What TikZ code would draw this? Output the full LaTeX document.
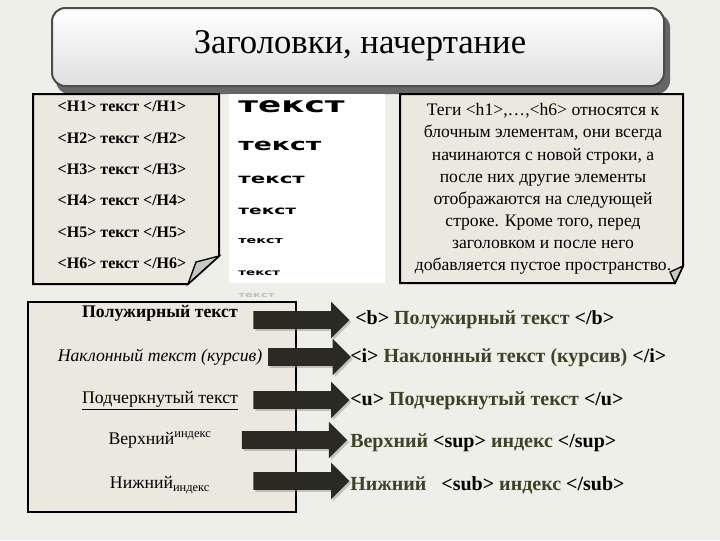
\documentclass[tikz,border=0pt]{standalone}
\usepackage{fontspec}
\setmainfont{Liberation Serif}
\newfontfamily\wide{DejaVu Sans}
\usetikzlibrary{shapes.arrows,shadows}
\definecolor{bg}{HTML}{EFEFEA}
\definecolor{paper}{HTML}{EBE8E0}
\definecolor{olive}{HTML}{3E4226}
\definecolor{arr}{HTML}{2B2A22}
\tikzset{
  paperbox/.style={draw=black,line width=1.5pt,fill=paper},
  fold/.style={draw=black,line width=1pt,fill=gray!45},
  htxt/.style={font=\fontsize{12}{14}\selectfont\bfseries},
  smp/.style={anchor=west,inner sep=0pt,xscale=1.6},
  ex/.style={font=\fontsize{13.2}{15}\selectfont,inner sep=0pt},
  barrow/.style={single arrow,fill=arr,minimum height=72pt,single arrow head extend=7pt,inner xsep=0pt,inner ysep=6.5pt,drop shadow={shadow xshift=1.5pt,shadow yshift=-1.5pt,opacity=0.4}},
  bl/.style={font=\fontsize{13.3}{15}\selectfont},
  rt/.style={font=\fontsize{15}{17}\selectfont\bfseries,text=olive,anchor=west,inner sep=0pt}
}
\begin{document}
\begin{tikzpicture}[x=0.75pt,y=-0.75pt]
\fill[bg] (0,0) rectangle (720,540);
\useasboundingbox (0,0) rectangle (720,540);
% title
\fill[black!60,rounded corners=10pt] (56,14) rectangle (670,94);
\shade[top color=white,bottom color=gray!25,draw=black!70,line width=1.5pt,rounded corners=10pt] (52,8) rectangle (664,86);
\node (title) at (360,46) {\fontsize{26}{30}\selectfont Заголовки, начертание};
% left H box
\draw[paperbox] (33,94) -- (219,94) -- (219,256) -- (188,284) -- (33,284) -- cycle;
\draw[fold] (219,256) -- (196,262) -- (188,284) -- cycle;
\foreach \i/\y in {1/106,2/138,3/169,4/200,5/232,6/263}
  \node[htxt] (h\i) at (122,\y) {<H\i> текст </H\i>};
% white sample panel
\fill[white] (229,94) rectangle (385,283);
\node[smp,font=\wide\bfseries\fontsize{16}{17}\selectfont] (s1) at (238,107) {текст};
\node[smp,font=\wide\bfseries\fontsize{12.5}{14}\selectfont] (s2) at (238,146) {текст};
\node[smp,font=\wide\bfseries\fontsize{10}{11}\selectfont] (s3) at (238,180) {текст};
\node[smp,font=\wide\bfseries\fontsize{8.7}{9}\selectfont] (s4) at (238,211) {текст};
\node[smp,font=\wide\bfseries\fontsize{6.7}{7}\selectfont] (s5) at (238,241) {текст};
\node[smp,font=\wide\bfseries\fontsize{6.3}{7}\selectfont] (s6) at (238,273) {текст};
\node[smp,font=\wide\bfseries\fontsize{5.5}{6}\selectfont,text=gray!50] (s7) at (238,295) {текст};
% right explanation box
\draw[paperbox] (400,94) -- (683,94) -- (683,266) -- (675,283) -- (400,283) -- cycle;
\draw[fold] (683,266) -- (670,272) -- (675,283) -- cycle;
\node[ex,align=center] (expl) at (543,189) {Теги <h1>,…,<h6> относятся к\\[1.6pt]блочным элементам, они всегда\\[1.6pt]начинаются с новой строки, а\\[1.6pt]после них другие элементы\\[1.6pt]отображаются на следующей\\[1.6pt]строке. Кроме того, перед\\[1.6pt]заголовком и после него\\[1.6pt]добавляется пустое пространство.};
% bottom left box
\draw[paperbox] (28,302) rectangle (296,512);
\node[bl,font=\fontsize{13.3}{15}\selectfont\bfseries] (b1) at (160,313) {Полужирный текст};
\node[bl,font=\fontsize{13.3}{15}\selectfont\itshape] (b2) at (160,357) {Наклонный текст (курсив)};
\node[bl] (b3) at (160,401) {\underline{Подчеркнутый текст}};
\node[bl] (b4) at (160,440) {Верхний\textsuperscript{индекс}};
\node[bl] (b5) at (160,485) {Нижний\textsubscript{индекс}};
% arrows
\node[barrow] (a1) at (297,320) {};
\node[barrow,minimum height=62pt] (a2) at (305,357) {};
\node[barrow] (a3) at (297,400) {};
\node[barrow,minimum height=79pt] (a4) at (290,440) {};
\node[barrow] (a5) at (297,481) {};
% right texts
\node[rt] (r1) at (355,320) {\textcolor{black}{<b>} Полужирный текст \textcolor{black}{</b>}};
\node[rt] (r2) at (350,358) {\textcolor{black}{<i>} Наклонный текст (курсив) \textcolor{black}{</i>}};
\node[rt] (r3) at (350,401) {\textcolor{black}{<u>} Подчеркнутый текст \textcolor{black}{</u>}};
\node[rt] (r4) at (350,443) {Верхний \textcolor{black}{<sup>} индекс \textcolor{black}{</sup>}};
\node[rt] (r5) at (350,485) {Нижний \ \ \textcolor{black}{<sub>} индекс \textcolor{black}{</sub>}};
\end{tikzpicture}
\end{document}
